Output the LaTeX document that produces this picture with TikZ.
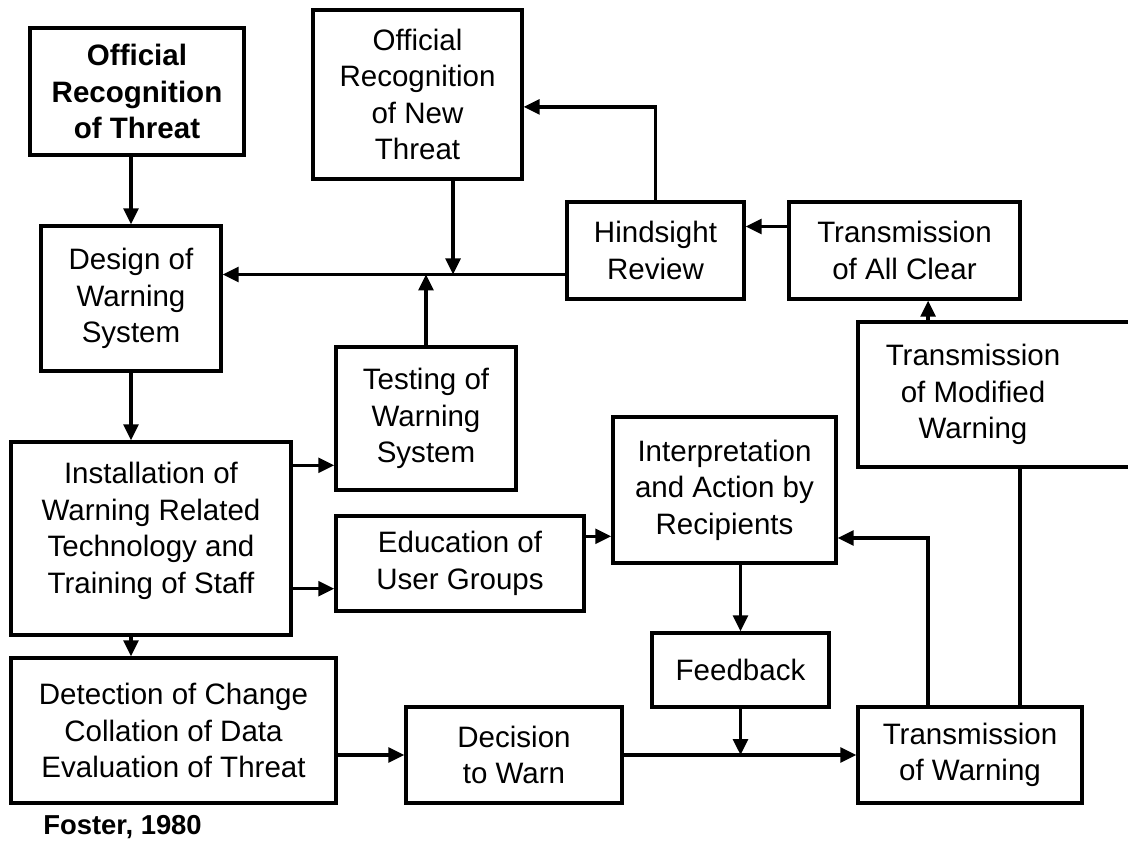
\documentclass[tikz,border=0pt]{standalone}
\usepackage{fontspec}
\setmainfont{Liberation Sans}
\usepackage{tikz}
\usetikzlibrary{arrows.meta,positioning}
\tikzset{bx/.style={rectangle, draw=black, line width=2.4pt, inner sep=0pt, align=center,
            font=\fontsize{21}{26}\selectfont},
         lbl/.style={align=center, font=\fontsize{21}{26}\selectfont},
         ln/.style={line width=2.3pt},
         arr/.style={ln, -{Triangle[length=0.4cm, width=0.37cm]}}}

\begin{document}
\begin{tikzpicture}
\useasboundingbox (0,0) rectangle (28.2,-21.025);
 % left column
 \node[bx, minimum width=5.35cm, minimum height=3.175cm, font=\fontsize{21}{26}\selectfont\bfseries]
   (offrec) at (3.425,-2.2875) {Official\\Recognition\\of Threat};
 \node[bx, minimum width=4.5cm, minimum height=3.625cm] (design) at (3.275,-7.4625)
   {Design of\\Warning\\System};
 \node[bx, minimum width=7cm, minimum height=4.825cm] (install) at (3.775,-13.4625)
   {Installation of\\Warning Related\\Technology and\\Training of Staff\\[-0.39cm]};
 \node[bx, minimum width=8.125cm, minimum height=3.625cm] (detect) at (4.3375,-18.2625)
   {Detection of Change\\Collation of Data\\Evaluation of Threat};
 \node[lbl, anchor=west, inner sep=0pt, font=\fontsize{19.5}{24}\selectfont\bfseries] (foster) at (1.075,-20.675)
   {Foster, 1980};

 % middle
 \node[bx, minimum width=5.225cm, minimum height=4.225cm] (newthr) at (10.4375,-2.3625)
   {Official\\Recognition\\of New\\Threat};
 \node[bx, minimum width=4.5cm, minimum height=3.575cm] (testing) at (10.65,-10.4625)
   {Testing of\\Warning\\System};
 \node[bx, minimum width=6.2cm, minimum height=2.375cm] (educ) at (11.5,-14.0875)
   {Education of\\User Groups};
 \node[bx, minimum width=5.4cm, minimum height=2.4cm] (decide) at (12.85,-18.875)
   {Decision\\to Warn};

 % right
 \node[bx, minimum width=4.425cm, minimum height=2.425cm] (hind) at (16.3875,-6.2625)
   {Hindsight\\Review};
 \node[bx, minimum width=5.775cm, minimum height=2.425cm] (allclr) at (22.6125,-6.2625)
   {Transmission\\of All Clear};
 \node[bx, minimum width=7.05cm, minimum height=3.625cm,
   label={[lbl, xshift=-0.65cm]center:Transmission\\of Modified\\Warning}] (modif) at (24.975,-9.8625) {};
 \node[bx, minimum width=5.575cm, minimum height=3.65cm] (interp) at (18.1125,-12.25)
   {Interpretation\\and Action by\\Recipients};
 \node[bx, minimum width=4.425cm, minimum height=1.85cm] (feedb) at (18.5125,-16.75)
   {Feedback};
 \node[bx, minimum width=5.6cm, minimum height=2.4cm] (transw) at (24.25,-18.875)
   {Transmission\\of Warning};

 \coordinate (mainl) at ([yshift=-0.6cm]hind.west);

\draw [arr] (offrec.south -| design.north) -- (design.north);
\draw [arr] (design.south) -- (design.south |- install.north);
\draw [arr] (install.south -| design.south) -- (detect.north -| design.south);
\draw [arr] ([yshift=-0.625cm]install.north east) -- ([yshift=-0.625cm]install.north east -| testing.west);
\draw [arr] ([yshift=1.2cm]install.south east) -- ([yshift=1.2cm]install.south east -| educ.west);
\draw [arr] ([yshift=-0.55cm]educ.north east) -- ([yshift=-0.55cm]educ.north east -| interp.west);
\draw [arr] (detect.east |- decide.west) -- (decide.west);
\draw [arr] (decide.east) -- (transw.west);
\draw [arr] (interp.south -| feedb.north) -- (feedb.north);
\draw [arr] (feedb.south) -- (feedb.south |- decide.east);
\draw [arr] ([xshift=-1.05cm]transw.north) |- ([yshift=-1.2cm]interp.east);
\draw [ln] ([xshift=1.25cm]transw.north) -- ([xshift=1.25cm]transw.north |- modif.south);
\draw [arr] ([xshift=0.59cm]allclr.south |- modif.north) -- ([xshift=0.59cm]allclr.south);
\draw [arr] ([yshift=0.6cm]allclr.west) -- ([yshift=0.6cm]hind.east);
\draw [arr] (hind.north) |- ([yshift=-0.31cm]newthr.east);
\draw [arr] (mainl) -- (mainl -| design.east);
\draw [arr] ([xshift=0.89cm]newthr.south) -- ([xshift=0.89cm]newthr.south |- mainl);
\draw [arr] (testing.north) -- (testing.north |- mainl);
\end{tikzpicture}
\end{document}
